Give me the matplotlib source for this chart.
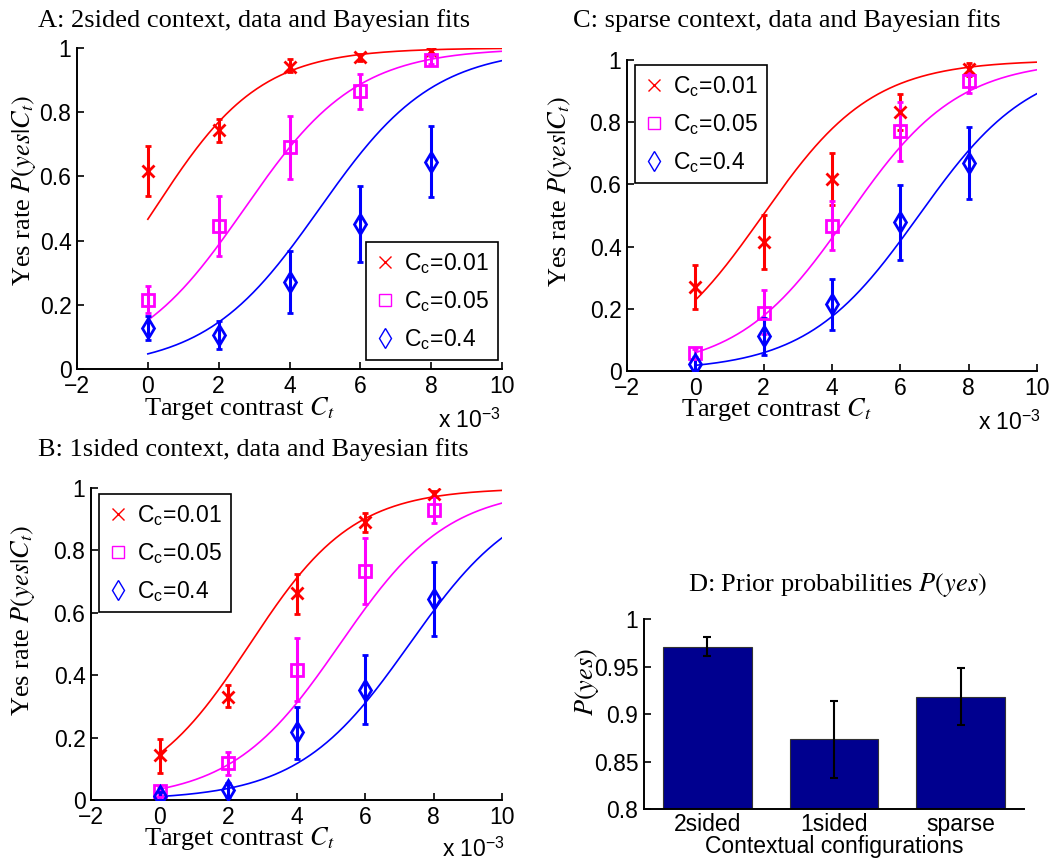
import numpy as np
import matplotlib
matplotlib.use("Agg")
import matplotlib.pyplot as plt
from matplotlib.lines import Line2D

plt.rcParams['font.family'] = ['Liberation Sans', 'DejaVu Sans']
plt.rcParams['mathtext.fontset'] = 'stix'

# ---------------- data ----------------
contrast = [0, 2, 4, 6, 8]          # target contrast, x 10^-3
cc_labels = ['0.01', '0.05', '0.4']

# Panel A: 2sided
a_red = [0.617, 0.746, 0.941, 0.972, 0.990]
a_red_lo = [0.538, 0.707, 0.925, 0.958, 0.985]
a_red_hi = [0.694, 0.778, 0.966, 0.982, 0.996]
a_mag = [0.215, 0.446, 0.691, 0.865, 0.964]
a_mag_lo = [0.173, 0.353, 0.592, 0.810, 0.951]
a_mag_hi = [0.258, 0.539, 0.787, 0.920, 0.975]
a_blu = [0.129, 0.107, 0.271, 0.451, 0.646]
a_blu_lo = [0.090, 0.063, 0.175, 0.333, 0.536]
a_blu_hi = [0.166, 0.149, 0.368, 0.569, 0.757]
a_fit_mid = [0.20, 2.73, 4.85]
a_fit_slope = [0.67, 0.63, 0.62]

# Panel B: 1sided
b_red = [0.144, 0.331, 0.662, 0.891, 0.982]
b_red_lo = [0.088, 0.297, 0.596, 0.859, 0.971]
b_red_hi = [0.197, 0.368, 0.724, 0.920, 0.990]
b_mag = [0.030, 0.117, 0.418, 0.735, 0.931]
b_mag_lo = [0.016, 0.080, 0.318, 0.629, 0.888]
b_mag_hi = [0.043, 0.153, 0.519, 0.841, 0.971]
b_blu = [0.013, 0.032, 0.217, 0.354, 0.644]
b_blu_lo = [0.000, 0.009, 0.133, 0.243, 0.525]
b_blu_hi = [0.027, 0.055, 0.299, 0.464, 0.763]
b_fit_mid = [2.64, 5.27, 7.30]
b_fit_slope = [0.66, 0.63, 0.615]

# Panel C: sparse
c_red = [0.270, 0.415, 0.617, 0.834, 0.970]
c_red_lo = [0.200, 0.327, 0.533, 0.775, 0.950]
c_red_hi = [0.340, 0.500, 0.700, 0.890, 0.990]
c_mag = [0.059, 0.188, 0.467, 0.771, 0.932]
c_mag_lo = [0.045, 0.120, 0.388, 0.676, 0.895]
c_mag_hi = [0.072, 0.260, 0.546, 0.866, 0.957]
c_blu = [0.021, 0.112, 0.214, 0.480, 0.670]
c_blu_lo = [0.002, 0.050, 0.131, 0.358, 0.554]
c_blu_hi = [0.040, 0.172, 0.295, 0.598, 0.785]
c_fit_mid = [1.97, 4.47, 6.54]
c_fit_slope = [0.62, 0.62, 0.61]

# Panel D: priors
configs = ['2sided', '1sided', 'sparse']
prior = [0.971, 0.874, 0.918]
prior_lo = [0.961, 0.833, 0.888]
prior_hi = [0.981, 0.914, 0.948]

# ---------------- styling ----------------
W, H = 1055, 863
fig = plt.figure(figsize=(W / 100, H / 100), dpi=100)

colors = ['#ff0000', '#ff00ff', '#0000ff']
markers = ['x', 's', 'd']
msizes = [9, 8.5, 10.5]
TICK_FS = 16.5
LAB_FS = 19
SERIF = ['Liberation Serif', 'DejaVu Serif']


def px_axes(l, t, r, b):
    return fig.add_axes([l / W, 1 - b / H, (r - l) / W, (b - t) / H])


def style_axes(ax):
    for s in ['top', 'right']:
        ax.spines[s].set_visible(False)
    for s in ['left', 'bottom']:
        ax.spines[s].set_linewidth(1.4)
    ax.tick_params(direction='in', length=5, width=1.2, labelsize=TICK_FS, pad=4)


def psych_panel(box, series, fit_mid, fit_slope, legend_box, title, title_xy,
                ylab_xy, xlab_xy, off_xy):
    ax = px_axes(*box)
    style_axes(ax)
    xs = np.linspace(0, 10, 300)
    for i, (m, lo, hi) in enumerate(series):
        m = np.array(m); lo = np.array(lo); hi = np.array(hi)
        curve = 1.0 / (1.0 + np.exp(-(xs - fit_mid[i]) * fit_slope[i]))
        ax.plot(xs, curve, color=colors[i], lw=1.2, zorder=2)
        ax.errorbar(contrast, m, yerr=[m - lo, hi - m], fmt=markers[i],
                    color=colors[i], ms=msizes[i], mew=2.0, mfc='none',
                    elinewidth=2.2, capsize=2.5, capthick=2.0, zorder=3)
    ax.set_xlim(-2, 10)
    ax.set_ylim(0, 1)
    ax.set_xticks([-2, 0, 2, 4, 6, 8, 10])
    ax.set_xticklabels(['\u22122', '0', '2', '4', '6', '8', '10'])
    ax.set_yticks([0, 0.2, 0.4, 0.6, 0.8, 1])
    ax.set_yticklabels(['0', '0.2', '0.4', '0.6', '0.8', '1'])

    handles = [Line2D([], [], ls='none', marker=markers[i], color=colors[i],
                      ms=msizes[i] * 0.95, mew=1.0, mfc='none')
               for i in range(3)]
    labels = ['C$_{\\mathregular{c}}$=' + c for c in cc_labels]
    l, t, r, b = legend_box
    leg = fig.legend(handles, labels, loc='upper left',
                     bbox_to_anchor=(l / W, 1 - t / H), borderaxespad=0,
                     fontsize=TICK_FS, frameon=True, fancybox=False,
                     framealpha=1, edgecolor='black', handlelength=0.9,
                     handletextpad=0.35, labelspacing=0.6, borderpad=0.4)
    leg.get_frame().set_linewidth(1.2)

    fig.text(title_xy[0] / W, 1 - title_xy[1] / H, title, ha='center',
             va='baseline', fontsize=LAB_FS, family=SERIF)
    fig.text(ylab_xy[0] / W, 1 - ylab_xy[1] / H, 'Yes rate $P(yes|C_t)$',
             ha='center', va='center', rotation=90, fontsize=LAB_FS, family=SERIF)
    fig.text(xlab_xy[0] / W, 1 - xlab_xy[1] / H, 'Target contrast $C_t$',
             ha='center', va='baseline', fontsize=LAB_FS, family=SERIF)
    fig.text(off_xy[0] / W, 1 - off_xy[1] / H, 'x 10$^{\\mathregular{\u22123}}$',
             ha='left', va='baseline', fontsize=TICK_FS)
    return ax


psych_panel((77, 48, 502, 369),
            [(a_red, a_red_lo, a_red_hi), (a_mag, a_mag_lo, a_mag_hi),
             (a_blu, a_blu_lo, a_blu_hi)],
            a_fit_mid, a_fit_slope, (366, 242, 493, 362),
            'A: 2sided context, data and Bayesian fits', (254, 27),
            (24, 190), (239, 415), (438, 428))

psych_panel((627, 60, 1037, 371),
            [(c_red, c_red_lo, c_red_hi), (c_mag, c_mag_lo, c_mag_hi),
             (c_blu, c_blu_lo, c_blu_hi)],
            c_fit_mid, c_fit_slope, (635, 65, 758, 182),
            'C: sparse context, data and Bayesian fits', (787, 27),
            (560, 191), (776, 416), (978, 430))

psych_panel((91, 488, 502, 800),
            [(b_red, b_red_lo, b_red_hi), (b_mag, b_mag_lo, b_mag_hi),
             (b_blu, b_blu_lo, b_blu_hi)],
            b_fit_mid, b_fit_slope, (99, 494, 222, 611),
            'B: 1sided context, data and Bayesian fits', (253, 456),
            (23, 620), (239, 845), (442, 857))

# Panel D
axd = px_axes(644, 619, 1024, 809)
style_axes(axd)
pos = np.arange(1, len(configs) + 1)
p = np.array(prior)
axd.bar(pos, p - 0.8, bottom=0.8, width=0.7, color='#00008f',
        edgecolor='#333333', linewidth=0.8, zorder=2)
axd.errorbar(pos, p, yerr=[p - np.array(prior_lo), np.array(prior_hi) - p],
             fmt='none', ecolor='black', elinewidth=1.5, capsize=3,
             capthick=1.5, zorder=3)
axd.set_xlim(0.5, 3.5)
axd.set_ylim(0.8, 1.0)
axd.set_xticks(pos)
axd.set_xticklabels(configs)
axd.tick_params(axis='x', length=0, pad=3)
axd.set_yticks([0.8, 0.85, 0.9, 0.95, 1.0])
axd.set_yticklabels(['0.8', '0.85', '0.9', '0.95', '1'])
fig.text(837 / W, 1 - 591 / H, 'D: Prior probabilities $P(yes)$',
         ha='center', va='baseline', fontsize=LAB_FS, family=SERIF)
fig.text(587 / W, 1 - 682 / H, '$P(yes)$', ha='center', va='center',
         rotation=90, fontsize=LAB_FS, family=SERIF)
fig.text(834 / W, 1 - 853 / H, 'Contextual configurations', ha='center',
         va='baseline', fontsize=TICK_FS)

fig.savefig('out.png', dpi=100)
